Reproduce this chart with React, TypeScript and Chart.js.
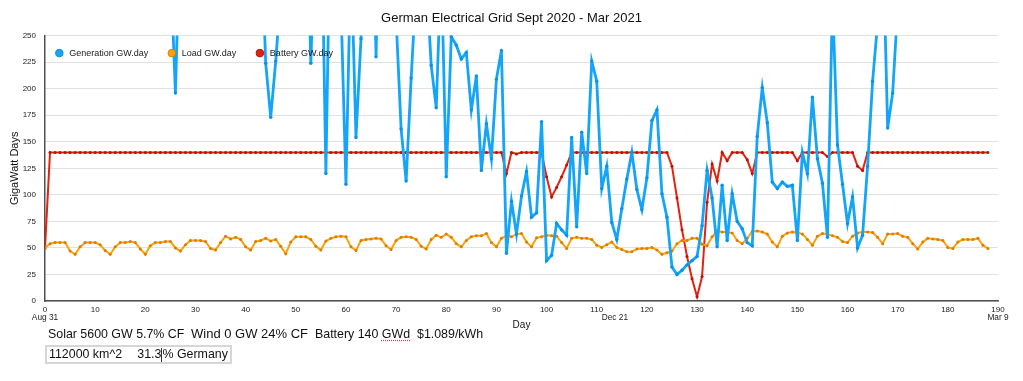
import React, { useEffect, useRef } from 'react';
import { Chart, registerables } from 'chart.js';

Chart.register(...registerables);

const FONT = '"Liberation Sans", Arial, Helvetica, sans-serif';

const chartTitle = 'German Electrical Grid Sept 2020 - Mar 2021';
const xAxisTitle = 'Day';
const yAxisTitle = 'GigaWatt Days';
const seriesNames = ['Generation GW.day', 'Load GW.day', 'Battery GW.day'];

// GW.day per day, day 0 = Aug 31 2020
const generation = [
  520, 610, 480, 650, 700, 590, 430, 560, 680, 720,
  540, 470, 600, 650, 580, 500, 620, 690, 560, 450,
  530, 610, 570, 490, 420, 320, 196, 358, 480, 560,
  620, 540, 470, 590, 650, 520, 430, 510, 600, 560,
  480, 440, 500, 360, 224, 173, 226, 290, 420, 510,
  460, 390, 400, 224, 380, 400, 120, 400, 450, 280,
  110, 328, 154, 247, 400, 450, 230, 450, 520, 430,
  266, 162, 113, 210, 296, 380, 306, 222, 182, 318,
  117, 249, 241, 228, 234, 180, 212, 123, 167, 134,
  209, 236, 45, 94, 63, 99, 122, 79, 83, 169,
  38, 43, 73, 67, 62, 154, 70, 159, 120, 226,
  207, 106, 127, 74, 58, 87, 115, 140, 105, 86,
  116, 170, 180, 101, 79, 32, 25, 29, 34, 38,
  42, 71, 123, 97, 51, 109, 57, 101, 75, 68,
  55, 52, 155, 201, 168, 112, 106, 112, 108, 109,
  57, 140, 120, 192, 134, 111, 60, 285, 147, 110,
  73, 98, 50, 62, 127, 207, 262, 350, 163, 196,
  277, 420, 510, 560, 480, 600, 650, 590, 530, 470,
  620, 680, 560, 500, 610, 640, 580, 520, 490,
];

const load = [
  50, 54, 55, 55, 55, 47, 44, 51, 55, 55,
  55, 53, 47.5, 44, 51, 55, 55, 56, 55, 49,
  44, 52, 55, 55, 56, 56, 50, 47, 53, 57,
  57, 57, 56, 49.5, 48, 55, 61, 58.5, 60, 58,
  51, 48, 56, 57, 59, 56.5, 58, 51.5, 44.5, 55.5,
  60.5, 60.5, 60.5, 58, 51.5, 48, 56.5, 59, 60.5, 61,
  60.5, 51, 47.5, 57, 58, 58.5, 59, 58.5, 52, 48.5,
  57, 60, 60.5, 60, 58, 51.5, 49, 58, 62, 60,
  63, 60, 54, 51, 57, 60.5, 61.5, 61.5, 63.5, 55,
  51, 59, 61.5, 60.5, 63, 63.5, 55.5, 51, 59.5, 60.5,
  62, 61.5, 61, 55, 49.5, 59, 60, 59, 59, 58,
  52.5, 50.5, 53, 55.5, 50.5, 48.5, 46.5, 46.5, 49, 49.5,
  49.5, 50.5, 48, 44, 45.5, 47, 54, 57, 57, 59,
  59, 53.5, 52, 60.5, 66, 65, 65, 64, 57, 54,
  59, 65.5, 66, 65, 63, 55.5, 51, 61, 64, 65,
  64.5, 63, 58, 52.5, 61, 63.5, 63, 61.5, 60, 56,
  55, 61, 64, 65, 65, 64.5, 60, 54, 63, 63,
  63.5, 61, 60, 54, 49, 55.5, 59, 58.5, 58, 57,
  50.5, 49.5, 55.5, 58, 58, 58, 59, 52.5, 49.5,
];

const battery = [
  50, 140, 140, 140, 140, 140, 140, 140, 140, 140,
  140, 140, 140, 140, 140, 140, 140, 140, 140, 140,
  140, 140, 140, 140, 140, 140, 140, 140, 140, 140,
  140, 140, 140, 140, 140, 140, 140, 140, 140, 140,
  140, 140, 140, 140, 140, 140, 140, 140, 140, 140,
  140, 140, 140, 140, 140, 140, 140, 140, 140, 140,
  140, 140, 140, 140, 140, 140, 140, 140, 140, 140,
  140, 140, 140, 140, 140, 140, 140, 140, 140, 140,
  140, 140, 140, 140, 140, 140, 140, 140, 140, 140,
  140, 140, 120, 140, 138.5, 140, 140, 140, 140, 140,
  117, 98, 107, 117, 128, 140, 140, 140, 140, 140,
  140, 140, 140, 140, 140, 140, 140, 140, 140, 140,
  140, 140, 140, 140, 140, 127, 97, 67, 42, 21,
  4, 23, 93, 129, 113, 140, 132, 140, 140, 140,
  133, 120, 140, 140, 140, 140, 140, 140, 140, 140,
  132, 140, 140, 140, 140, 140, 136, 140, 140, 140,
  140, 140, 127, 123, 140, 140, 140, 140, 140, 140,
  140, 140, 140, 140, 140, 140, 140, 140, 140, 140,
  140, 140, 140, 140, 140, 140, 140, 140, 140,
];

const xMin = 0;
const xMax = 190;
const xStep = 10;
const yMin = 0;
const yMax = 250;
const yStep = 25;

const dateLabelDays = [0, 112, 190];
const dateLabelTexts = ['Aug 31', 'Dec 21', 'Mar 9'];

const footerItems = ['Solar 5600 GW 5.7% CF', 'Wind 0 GW 24% CF', 'Battery 140 ', 'GWd', '$1.089/kWh'];
const boxItems = ['112000 km^2', '31.3', '% Germany'];

export default function App() {
  const canvasRef = useRef<HTMLCanvasElement | null>(null);

  useEffect(() => {
    const canvas = canvasRef.current;
    if (!canvas) return;
    Chart.defaults.font.family = FONT;

    const toPoints = (arr: number[]) => arr.map((v, i) => ({ x: i, y: v }));

    const dateLabelPlugin = {
      id: 'dateLabels',
      afterDraw(chart: any) {
        const { ctx, chartArea, scales } = chart;
        const xs = scales.x;
        ctx.save();
        ctx.font = `8.3px ${FONT}`;
        ctx.fillStyle = '#222';
        ctx.textBaseline = 'middle';
        dateLabelDays.forEach((d, i) => {
          const px = xs.getPixelForValue(d);
          const edge = i === 0 || i === dateLabelDays.length - 1;
          ctx.textAlign = edge ? 'center' : 'left';
          ctx.fillText(dateLabelTexts[i], edge ? px : px - 5, chartArea.bottom + 17);
        });
        ctx.restore();
      },
    };

    const legendPlugin = {
      id: 'insideLegend',
      afterDatasetsDraw(chart: any) {
        const { ctx, chartArea } = chart;
        ctx.save();
        ctx.font = `9px ${FONT}`;
        ctx.textBaseline = 'middle';
        ctx.textAlign = 'left';
        let cx = chartArea.left + 14.3;
        const cy = chartArea.top + 17.5;
        chart.data.datasets.forEach((ds: any) => {
          ctx.beginPath();
          ctx.arc(cx, cy, 3.8, 0, Math.PI * 2);
          ctx.fillStyle = ds.borderColor;
          ctx.fill();
          ctx.lineWidth = 1;
          ctx.strokeStyle = ds.pointBackgroundColor;
          ctx.stroke();
          ctx.fillStyle = '#1a1a1a';
          const tx = cx + 10;
          ctx.fillText(ds.label, tx, cy);
          cx = tx + ctx.measureText(ds.label).width + 23.5;
        });
        ctx.restore();
      },
    };

    const chart = new Chart(canvas, {
      type: 'line',
      data: {
        datasets: [
          {
            label: seriesNames[0],
            data: toPoints(generation),
            borderColor: '#14a5f8',
            backgroundColor: '#14a5f8',
            pointBackgroundColor: '#0a93e6',
            pointBorderWidth: 0,
            pointRadius: 1.7,
            borderWidth: 2.8,
            tension: 0,
          },
          {
            label: seriesNames[1],
            data: toPoints(load),
            borderColor: '#f9a30c',
            backgroundColor: '#f9a30c',
            pointBackgroundColor: '#e07c00',
            pointBorderWidth: 0,
            pointRadius: 1.5,
            borderWidth: 2,
            tension: 0,
          },
          {
            label: seriesNames[2],
            data: toPoints(battery),
            borderColor: '#e3220f',
            backgroundColor: '#e3220f',
            pointBackgroundColor: '#b5150a',
            pointBorderWidth: 0,
            pointRadius: 1.5,
            borderWidth: 2,
            tension: 0,
          },
        ],
      },
      options: {
        responsive: false,
        animation: false,
        devicePixelRatio: 1,
        events: [],
        plugins: {
          legend: { display: false },
          tooltip: { enabled: false },
          title: {
            display: true,
            text: chartTitle,
            color: '#111',
            font: { size: 13, weight: 'normal', family: FONT },
            padding: { top: 3, bottom: 9 },
          },
        },
        scales: {
          x: {
            type: 'linear',
            min: xMin,
            max: xMax,
            ticks: { stepSize: xStep, font: { size: 8 }, color: '#222', padding: 4, maxRotation: 0, autoSkip: false },
            grid: { display: false, drawTicks: false },
            border: { display: true, color: '#505050', width: 1.5 },
            title: { display: true, text: xAxisTitle, color: '#111', font: { size: 10 }, padding: { top: 0, bottom: 2 } },
            afterFit: (s: any) => { s.height = 32; },
          },
          y: {
            min: yMin,
            max: yMax,
            ticks: { stepSize: yStep, font: { size: 8 }, color: '#222', padding: 9 },
            grid: { color: '#e1e1e1', lineWidth: 1, drawTicks: false },
            border: { display: true, color: '#505050', width: 1.5 },
            title: { display: true, text: yAxisTitle, color: '#111', font: { size: 11 }, padding: { top: 0, bottom: 0 } },
            afterFit: (s: any) => { s.width = 37; },
          },
          yRightSpacer: {
            position: 'right',
            display: true,
            min: yMin,
            max: yMax,
            ticks: { display: false },
            grid: { display: false, drawTicks: false },
            border: { display: false },
            afterFit: (s: any) => { s.width = 17; },
          },
        },
      } as any,
      plugins: [dateLabelPlugin, legendPlugin],
    });

    return () => chart.destroy();
  }, []);

  const txt: React.CSSProperties = {
    position: 'absolute',
    fontFamily: FONT,
    fontSize: '12.4px',
    lineHeight: '15px',
    color: '#111',
    whiteSpace: 'pre',
  };

  return (
    <div style={{ position: 'relative', width: 1007, height: 365 }}>
      <canvas ref={canvasRef} width={1007} height={325} style={{ position: 'absolute', left: 0, top: 0, display: 'block' }} />
      <span style={{ ...txt, left: 40, top: 318.6 }}>{footerItems[0]}</span>
      <span style={{ ...txt, left: 183, top: 318.2, fontSize: '13px' }}>{footerItems[1]}</span>
      <span style={{ ...txt, left: 307, top: 318.6 }}>
        {footerItems[2]}
        <span style={{ textDecoration: 'underline dotted #e03a3a', textUnderlineOffset: '2px' }}>{footerItems[3]}</span>
      </span>
      <span style={{ ...txt, left: 409, top: 318.6 }}>{footerItems[4]}</span>
      <div style={{ position: 'absolute', left: 37, top: 337, width: 183, height: 15, border: '2px solid #d6d6d6' }} />
      <span style={{ ...txt, left: 41, top: 338.5 }}>{boxItems[0]}</span>
      <span style={{ ...txt, left: 129.3, top: 338.5 }}>{boxItems[1]}</span>
      <div style={{ position: 'absolute', left: 153.3, top: 340, width: 1, height: 14, background: '#333' }} />
      <span style={{ ...txt, left: 154.5, top: 338.5 }}>{boxItems[2]}</span>
    </div>
  );
}
